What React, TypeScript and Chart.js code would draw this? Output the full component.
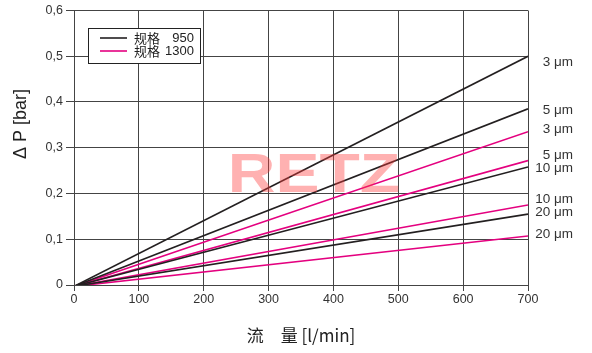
import React, { useEffect, useRef } from "react";
import { Chart, registerables } from "chart.js";

Chart.register(...registerables);

// Flow range [l/min]
const flowPoints = [0, 700];

// Pressure drop [bar] per filter rating, size 950 (black)
const dp950_3 = [-0.003, 0.5];
const dp950_5 = [-0.003, 0.385];
const dp950_10 = [-0.003, 0.258];
const dp950_20 = [-0.003, 0.155];

// Pressure drop [bar] per filter rating, size 1300 (magenta)
const dp1300_3 = [-0.003, 0.335];
const dp1300_5 = [-0.003, 0.272];
const dp1300_10 = [-0.003, 0.175];
const dp1300_20 = [-0.003, 0.107];

const ratingLabels = ["3 μm", "5 μm", "10 μm", "20 μm"];
const xTicks = [0, 100, 200, 300, 400, 500, 600, 700];
const yTicks = [0, 0.1, 0.2, 0.3, 0.4, 0.5, 0.6];
const legendLabels = ["规格", "950", "1300"];
const yTitle = "Δ P [bar]";
const xTitle = "流　量 [l/min]";

const BLACK = "#231f20";
const MAGENTA = "#e4007f";
const FONT = "'Liberation Sans', Arial, sans-serif";
const CJK = "'Noto Sans CJK SC', sans-serif";

// small vertical nudges (px) for right-side labels to avoid overlap
const labelNudge950 = [6, 1, 1, -2];
const labelNudge1300 = [-2, -5, -6, -2];

export default function App() {
  const ref = useRef<HTMLCanvasElement>(null);
  useEffect(() => {
    const mk = (arr: number[]) => flowPoints.map((x, i) => ({ x, y: arr[i] }));
    const s950 = [dp950_3, dp950_5, dp950_10, dp950_20];
    const s1300 = [dp1300_3, dp1300_5, dp1300_10, dp1300_20];
    const datasets: any[] = [];
    s950.forEach((a, i) =>
      datasets.push({ label: "950 " + ratingLabels[i], data: mk(a), borderColor: BLACK, borderWidth: 1.6, pointRadius: 0 })
    );
    s1300.forEach((a, i) =>
      datasets.push({ label: "1300 " + ratingLabels[i], data: mk(a), borderColor: MAGENTA, borderWidth: 1.6, pointRadius: 0 })
    );

    const overlay = {
      id: "overlay",
      afterDatasetsDraw(chart: any) {
        const ctx = chart.ctx;
        const ys = chart.scales.y;
        // watermark
        ctx.save();
        ctx.fillStyle = "rgba(255,60,60,0.4)";
        ctx.font = `bold 55px ${FONT}`;
        ctx.textAlign = "center";
        ctx.textBaseline = "middle";
        ctx.translate(314, 177);
        ctx.scale(1.2, 1);
        ctx.fillText("RETZ", 0, 0);
        ctx.restore();

        // y title
        ctx.save();
        ctx.translate(21, 124);
        ctx.rotate(-Math.PI / 2);
        ctx.font = `18px ${FONT}`;
        ctx.fillStyle = "#222";
        ctx.textAlign = "center";
        ctx.textBaseline = "middle";
        ctx.fillText(yTitle, 0, 0);
        ctx.restore();

        // right labels
        ctx.save();
        ctx.font = `13.5px ${FONT}`;
        ctx.fillStyle = "#333";
        ctx.textAlign = "right";
        ctx.textBaseline = "middle";
        const rx = 573;
        s950.forEach((a, i) => {
          const y = ys.getPixelForValue(a[a.length - 1]) + labelNudge950[i];
          ctx.fillText(ratingLabels[i], rx, y);
        });
        s1300.forEach((a, i) => {
          const y = ys.getPixelForValue(a[a.length - 1]) + labelNudge1300[i];
          ctx.fillText(ratingLabels[i], rx, y);
        });
        ctx.restore();

        // legend
        ctx.save();
        const lx = 88, ly = 28, lw = 112, lh = 35;
        ctx.fillStyle = "#fff";
        ctx.fillRect(lx, ly, lw, lh);
        ctx.strokeStyle = "#222";
        ctx.lineWidth = 1;
        ctx.strokeRect(lx + 0.5, ly + 0.5, lw, lh);
        const rows = [
          { c: BLACK, t: legendLabels[1], y: ly + 10 },
          { c: MAGENTA, t: legendLabels[2], y: ly + 23 },
        ];
        rows.forEach((r) => {
          ctx.strokeStyle = r.c;
          ctx.lineWidth = 1.6;
          ctx.beginPath();
          ctx.moveTo(lx + 12, r.y);
          ctx.lineTo(lx + 39, r.y);
          ctx.stroke();
          ctx.fillStyle = "#222";
          ctx.textBaseline = "middle";
          ctx.textAlign = "left";
          ctx.font = `13px ${CJK}`;
          ctx.fillText(legendLabels[0], lx + 46, r.y);
          ctx.textAlign = "right";
          ctx.font = `13px ${FONT}`;
          ctx.fillText(r.t, lx + 106, r.y);
        });
        ctx.restore();
      },
    };

    const chart = new Chart(ref.current!, {
      type: "line",
      data: { datasets },
      options: {
        animation: false,
        responsive: false,
        maintainAspectRatio: false,
        layout: { padding: { left: 0, right: 64, top: 10, bottom: 0 } },
        plugins: { legend: { display: false }, tooltip: { enabled: false } },
        scales: {
          x: {
            type: "linear",
            min: 0,
            max: 700,
            afterFit: (s: any) => { s.height = 68; },
            afterBuildTicks: (s: any) => { s.ticks = xTicks.map((v) => ({ value: v })); },
            grid: { color: "#444", lineWidth: 1, tickLength: 6, tickColor: "#444" },
            border: { color: "#444" },
            ticks: { color: "#333", font: { family: FONT, size: 12.5 }, padding: 1, maxRotation: 0 },
            title: { display: true, text: xTitle, color: "#222", font: { family: CJK, size: 17 }, padding: { top: 0, bottom: 7 } },
          },
          y: {
            min: 0,
            max: 0.6,
            afterFit: (s: any) => { s.width = 74; },
            afterBuildTicks: (s: any) => { s.ticks = yTicks.map((v) => ({ value: v })); },
            grid: { color: "#444", lineWidth: 1, tickLength: 8, tickColor: "#444" },
            border: { color: "#444" },
            ticks: {
              color: "#333",
              font: { family: FONT, size: 12.5 },
              padding: 3,
              callback: (v: any) => (v === 0 ? "0" : Number(v).toFixed(1).replace(".", ",")),
            },
            title: { display: false },
          },
        },
      } as any,
      plugins: [overlay],
    });
    return () => chart.destroy();
  }, []);

  return (
    <div style={{ position: "fixed", left: 0, top: 0, width: 592, height: 353, background: "#fff" }}>
      <canvas ref={ref} width={592} height={353} style={{ width: 592, height: 353 }} />
    </div>
  );
}
